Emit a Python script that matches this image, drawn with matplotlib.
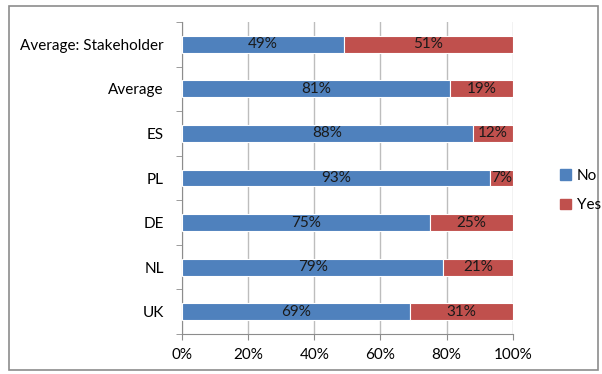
import numpy as np
import matplotlib.pyplot as plt
from matplotlib.patches import Rectangle, Patch

# data, top to bottom as in the chart
categories = ["Average: Stakeholder", "Average", "ES", "PL", "DE", "NL", "UK"]
no_vals = [49, 81, 88, 93, 75, 79, 69]
yes_vals = [51, 19, 12, 7, 25, 21, 31]

blue = "#4F81BD"
red = "#C0504D"

plt.rcParams['font.family'] = ['Lato', 'DejaVu Sans']

fig = plt.figure(figsize=(6.02, 3.74), dpi=100)
ax = fig.add_axes([0.302, 0.107, 0.55, 0.834])

# outer border of the chart area
fig.patches.append(Rectangle((0.015, 0.01), 0.978, 0.975, transform=fig.transFigure,
                             fill=False, edgecolor="#8c8c8c", linewidth=1.2))

y = np.arange(len(categories))[::-1]
ax.barh(y, no_vals, height=0.38, color=blue, edgecolor="white", linewidth=0.8,
        label="No", zorder=3)
ax.barh(y, yes_vals, left=no_vals, height=0.38, color=red, edgecolor="white",
        linewidth=0.8, label="Yes", zorder=3)

for yi, n, s in zip(y, no_vals, yes_vals):
    ax.text(n / 2, yi, f"{n}%", ha="center", va="center", fontsize=11, color="#1a1a1a", zorder=4)
    ax.text(n + s / 2, yi, f"{s}%", ha="center", va="center", fontsize=11, color="#1a1a1a", zorder=4)

ax.set_xlim(0, 100)
ax.set_ylim(-0.5, len(categories) - 0.5)
ax.set_xticks(np.arange(0, 101, 20))
ax.set_xticklabels([f"{v}%" for v in range(0, 101, 20)], fontsize=11)
ax.set_yticks(y)
ax.set_yticklabels(categories, fontsize=11)
ax.set_yticks(np.arange(-0.5, len(categories), 1), minor=True)
ax.tick_params(axis="y", which="major", length=0, pad=13)
ax.tick_params(axis="y", which="minor", length=4, color="#8c8c8c", direction="out")
ax.tick_params(axis="x", length=4, color="#8c8c8c", pad=6)

ax.grid(axis="x", color="#bdbdbd", linewidth=1, zorder=0)
for side in ["top", "right"]:
    ax.spines[side].set_visible(False)
for side in ["left", "bottom"]:
    ax.spines[side].set_color("#8c8c8c")

handles = [Patch(color=blue, label="No"), Patch(color=red, label="Yes")]
fig.legend(handles=handles, loc="center left", bbox_to_anchor=(0.93, 0.49),
           frameon=False, fontsize=11, handlelength=0.7, handleheight=0.7,
           handletextpad=0.4, labelspacing=1.0, borderpad=0, borderaxespad=0)

fig.savefig("out.png", dpi=100)
